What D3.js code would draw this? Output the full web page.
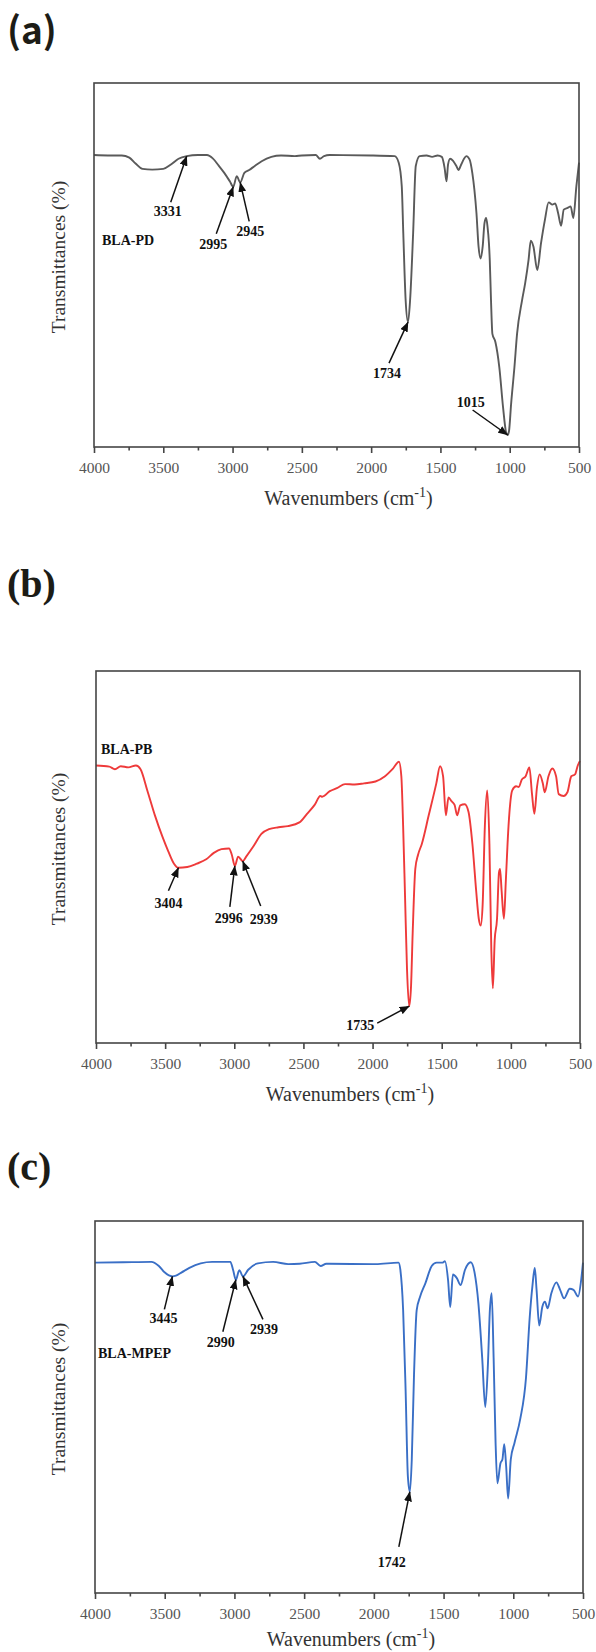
<!DOCTYPE html>
<html>
<head>
<meta charset="utf-8">
<script src="https://cdn.jsdelivr.net/npm/d3@7"></script>
<style>
  html, body { margin: 0; padding: 0; background: #fff; }
  svg { display: block; }
</style>
</head>
<body>
<svg id="fig" width="596" height="1652"></svg>
<script>
// FTIR spectra: wavenumber (cm-1) against relative transmittance (%)

// (a) BLA-PD
const wavenumbersPD = [4000,3900,3800,3745,3700,3650,3580,3500,3445,3390,3331,3250,3185,3143,3100,3060,3020,2995,2970,2945,2915,2880,2840,2790,2720,2650,2550,2500,2400,2370,2340,2300,2000,1830,1801,1779,1768,1751,1734,1719,1697,1678,1650,1600,1560,1520,1490,1470,1456,1445,1430,1410,1385,1370,1350,1330,1313,1290,1270,1255,1240,1225,1210,1195,1182,1170,1160,1150,1144,1135,1125,1103,1075,1048,1026,1015,1005,990,966,947,911,889,864,848,829,801,774,746,719,692,672,651,629,610,582,560,541,519,500];
const transmittancePD = [80.2,80.1,80.1,79.5,77.9,76.4,76.2,76.4,77.6,79.2,79.9,80.2,80.2,79.3,77.3,75.3,73.0,71.5,74.4,72.7,75.3,76.1,77.2,78.5,79.7,80.1,79.9,80.1,80.2,79.2,79.9,80.2,80.1,79.9,78.1,71.6,58.7,40.3,34.3,40.3,58.7,77.2,79.9,80.1,79.7,80.1,79.7,76.7,73.0,77.6,79.2,78.7,77.2,76.1,77.6,79.2,79.9,79.0,75.3,70.7,64.3,55.1,51.8,55.1,61.5,62.9,60.5,56.0,51.4,40.3,31.1,28.8,21.9,10.9,4.0,3.3,4.4,11.8,21.9,31.1,40.3,44.9,51.4,56.7,55.1,48.6,56.0,62.4,67.2,66.6,66.9,64.3,60.8,65.2,65.7,66.1,62.9,71.6,78.1];

// (b) BLA-PB
const wavenumbersPB = [4000,3904,3863,3821,3766,3711,3678,3629,3574,3519,3478,3436,3404,3340,3271,3203,3148,3093,3038,3018,2996,2972,2939,2914,2859,2804,2749,2680,2612,2529,2474,2419,2378,2364,2309,2254,2199,2130,2062,1979,1910,1856,1809,1792,1779,1765,1751,1735,1722,1710,1691,1671,1644,1594,1539,1512,1490,1470,1451,1429,1407,1388,1366,1333,1306,1278,1251,1232,1218,1204,1188,1171,1155,1141,1130,1117,1100,1086,1078,1067,1050,1036,1017,990,962,943,921,893,866,847,830,811,792,769,755,728,700,673,654,618,591,563,536,516,500];
const transmittancePB = [74.6,74.3,73.6,74.4,74.1,74.6,73.6,67.9,61.2,55.4,51.6,48.2,47.1,47.3,48.2,49.4,51.1,52.1,52.3,50.6,47.6,50.1,48.9,50.1,53.0,56.2,57.5,58.0,58.3,59.3,61.6,64.0,66.4,66.2,67.7,68.6,69.6,69.5,69.8,70.3,71.7,73.6,75.6,71.7,58.3,39.1,19.9,9.9,15.1,29.5,46.8,50.6,53.5,61.2,69.8,74.4,71.7,61.2,66.0,65.0,64.0,61.2,63.9,64.2,62.1,53.5,41.0,33.4,31.6,37.2,58.3,67.9,53.5,24.7,14.7,27.6,33.4,45.8,46.8,41.0,33.4,43.9,58.3,67.9,69.0,68.8,70.8,71.7,74.1,66.9,61.6,68.8,72.2,69.8,67.4,71.7,73.8,71.7,66.9,66.4,67.4,71.7,72.2,74.6,75.8];

// (c) BLA-MPEP
const wavenumbersMPEP = [4000,3800,3596,3542,3501,3445,3419,3378,3323,3242,3160,3029,3010,2990,2965,2939,2901,2832,2723,2614,2532,2423,2382,2341,1987,1823,1810,1790,1772,1756,1742,1728,1712,1693,1668,1630,1585,1550,1509,1490,1468,1452,1433,1406,1378,1346,1305,1277,1250,1223,1201,1182,1168,1155,1141,1127,1114,1092,1078,1065,1051,1037,1018,991,950,909,882,863,846,833,814,792,773,754,727,691,664,636,595,568,535,513,500];
const transmittanceMPEP = [88.8,88.9,89.0,87.9,86.2,85.1,85.3,86.2,87.4,88.6,89.0,89.0,86.9,84.2,86.8,85.1,86.9,88.6,89.0,88.4,88.5,89.0,87.9,88.5,88.4,88.8,86.9,76.0,54.1,31.3,27.2,35.9,58.7,76.0,79.7,83.3,87.9,88.8,88.8,89.2,84.2,76.9,85.6,84.7,82.8,86.9,88.9,86.0,77.8,63.2,50.0,61.4,76.0,80.6,63.2,40.4,29.5,34.9,35.9,40.0,34.0,25.4,35.9,40.4,46.8,57.8,74.2,82.4,87.4,81.5,71.9,76.9,78.3,76.5,80.6,83.5,81.5,79.2,81.8,81.5,79.7,84.2,88.8];

// Assigned band positions (cm-1)
const peakLabelsPD = [3331, 2995, 2945, 1734, 1015];
const peakLabelsPB = [3404, 2996, 2939, 1735];
const peakLabelsMPEP = [3445, 2990, 2939, 1742];

const sampleNames = ["BLA-PD", "BLA-PB", "BLA-MPEP"];
const panelTags = ["(a)", "(b)", "(c)"];
const xTickValues = [4000, 3500, 3000, 2500, 2000, 1500, 1000, 500];
const xMinorTickValues = [3750, 3250, 2750, 2250, 1750, 1250, 750];

const spectra = [
  { wn: wavenumbersPD, t: transmittancePD, peaks: peakLabelsPD },
  { wn: wavenumbersPB, t: transmittancePB, peaks: peakLabelsPB },
  { wn: wavenumbersMPEP, t: transmittanceMPEP, peaks: peakLabelsMPEP }
];

// Drawing layout for each panel
const panelLayout = [
  {
    box: { l: 94, t: 83, r: 579, b: 447 },
    tag: { x: 7, y: 44, family: "'Noto Sans CJK SC', 'Noto Sans', sans-serif", weight: 700, size: 37 },
    name: { x: 102, y: 245 },
    titleGap: 58,
    color: "#5a5a5a",
    arrows: [
      { tail: [-16, 46], text: [-19, 55] },
      { tail: [-17, 47], text: [-20, 57] },
      { tail: [9, 39], text: [10, 49] },
      { tail: [-19, 41], text: [-21, 51] },
      { tail: [-35, -25], text: [-37, -33] }
    ]
  },
  {
    box: { l: 96, t: 671, r: 580, b: 1043 },
    tag: { x: 7, y: 597, family: "'Liberation Serif', 'DejaVu Serif', serif", weight: 700, size: 40 },
    name: { x: 101, y: 754 },
    titleGap: 58,
    color: "#ee3a3a",
    arrows: [
      { tail: [-10, 23], text: [-10, 35] },
      { tail: [-5, 41], text: [-6, 52] },
      { tail: [18, 45], text: [21, 58] },
      { tail: [-32, 17], text: [-49, 19] }
    ]
  },
  {
    box: { l: 95, t: 1221, r: 583, b: 1593 },
    tag: { x: 7, y: 1180, family: "'Liberation Serif', 'DejaVu Serif', serif", weight: 700, size: 40 },
    name: { x: 98, y: 1358 },
    titleGap: 53,
    color: "#3a6fc6",
    arrows: [
      { tail: [-8, 33], text: [-9, 42] },
      { tail: [-13, 52], text: [-15, 62] },
      { tail: [20, 43], text: [21, 53] },
      { tail: [-11, 55], text: [-18, 70] }
    ]
  }
];

const svg = d3.select("#fig");
const serif = "'Liberation Serif', 'Times New Roman', serif";

svg.append("defs").append("marker")
  .attr("id", "arrowhead")
  .attr("viewBox", "0 0 10 8")
  .attr("refX", 9.5).attr("refY", 4)
  .attr("markerUnits", "userSpaceOnUse")
  .attr("markerWidth", 10).attr("markerHeight", 8)
  .attr("orient", "auto")
  .append("path")
  .attr("d", "M0,0 L10,4 L0,8 Z")
  .attr("fill", "#111");

// linear interpolation of a spectrum at a given wavenumber
function valueAt(wn, t, x) {
  for (let i = 0; i < wn.length - 1; i++) {
    const a = wn[i], b = wn[i + 1];
    if (x <= a && x >= b) {
      const f = (a - x) / (a - b);
      return t[i] + f * (t[i + 1] - t[i]);
    }
  }
  return t[t.length - 1];
}

spectra.forEach((s, i) => {
  const L = panelLayout[i];
  const B = L.box;
  const g = svg.append("g");

  const x = d3.scaleLinear().domain([4000, 500]).range([B.l, B.r]);
  const y = d3.scaleLinear().domain([0, 100]).range([B.b, B.t]);

  // panel tag
  g.append("text")
    .attr("x", L.tag.x).attr("y", L.tag.y)
    .attr("font-family", L.tag.family)
    .attr("font-weight", L.tag.weight)
    .attr("font-size", L.tag.size)
    .attr("fill", "#1c1c16")
    .text(panelTags[i]);

  // spectrum
  const pts = s.wn.map((w, k) => [w, s.t[k]]);
  const line = d3.line()
    .x(d => x(d[0]))
    .y(d => y(d[1]))
    .curve(d3.curveMonotoneX);
  g.append("path")
    .datum(pts)
    .attr("d", line)
    .attr("fill", "none")
    .attr("stroke", L.color)
    .attr("stroke-width", 1.9)
    .attr("stroke-linejoin", "round");

  // frame
  g.append("rect")
    .attr("x", B.l).attr("y", B.t)
    .attr("width", B.r - B.l).attr("height", B.b - B.t)
    .attr("fill", "none")
    .attr("stroke", "#454545")
    .attr("stroke-width", 1.6);

  // bottom axis: major ticks with labels
  const axis = d3.axisBottom(x)
    .tickValues(xTickValues)
    .tickFormat(d3.format("d"))
    .tickSize(6)
    .tickPadding(9);
  const ax = g.append("g").attr("transform", `translate(0,${B.b})`).call(axis);
  ax.select(".domain").remove();
  ax.selectAll(".tick line").attr("stroke", "#454545").attr("stroke-width", 1.6);
  ax.selectAll(".tick text")
    .attr("font-family", serif)
    .attr("font-size", 15.5)
    .attr("fill", "#555");

  // minor ticks
  const axMinor = g.append("g").attr("transform", `translate(0,${B.b})`)
    .call(d3.axisBottom(x).tickValues(xMinorTickValues).tickSize(3.5).tickFormat(""));
  axMinor.select(".domain").remove();
  axMinor.selectAll(".tick line").attr("stroke", "#454545").attr("stroke-width", 1.6);

  // axis titles
  const xt = g.append("text")
    .attr("x", (B.l + B.r) / 2 + 12)
    .attr("y", B.b + L.titleGap)
    .attr("text-anchor", "middle")
    .attr("font-family", serif)
    .attr("font-size", 20)
    .attr("fill", "#333");
  xt.append("tspan").text("Wavenumbers (cm");
  xt.append("tspan").attr("dy", -8).attr("font-size", 14).text("-1");
  xt.append("tspan").attr("dy", 8).text(")");

  g.append("text")
    .attr("transform", `translate(${65},${(B.t + B.b) / 2 - 8}) rotate(-90)`)
    .attr("text-anchor", "middle")
    .attr("font-family", serif)
    .attr("font-size", 19.5)
    .attr("fill", "#333")
    .text("Transmittances (%)");

  // sample name
  g.append("text")
    .attr("x", L.name.x).attr("y", L.name.y)
    .attr("font-family", serif)
    .attr("font-weight", 700)
    .attr("font-size", 14)
    .attr("fill", "#111")
    .text(sampleNames[i]);

  // band annotations
  s.peaks.forEach((p, k) => {
    const tipX = x(p);
    const tipY = y(valueAt(s.wn, s.t, p));
    const a = L.arrows[k];
    g.append("line")
      .attr("x1", tipX + a.tail[0]).attr("y1", tipY + a.tail[1])
      .attr("x2", tipX).attr("y2", tipY)
      .attr("stroke", "#111")
      .attr("stroke-width", 1.5)
      .attr("marker-end", "url(#arrowhead)");
    g.append("text")
      .attr("x", tipX + a.text[0]).attr("y", tipY + a.text[1] + 5)
      .attr("text-anchor", "middle")
      .attr("font-family", serif)
      .attr("font-weight", 700)
      .attr("font-size", 14)
      .attr("fill", "#111")
      .text(p);
  });
});
</script>
</body>
</html>
